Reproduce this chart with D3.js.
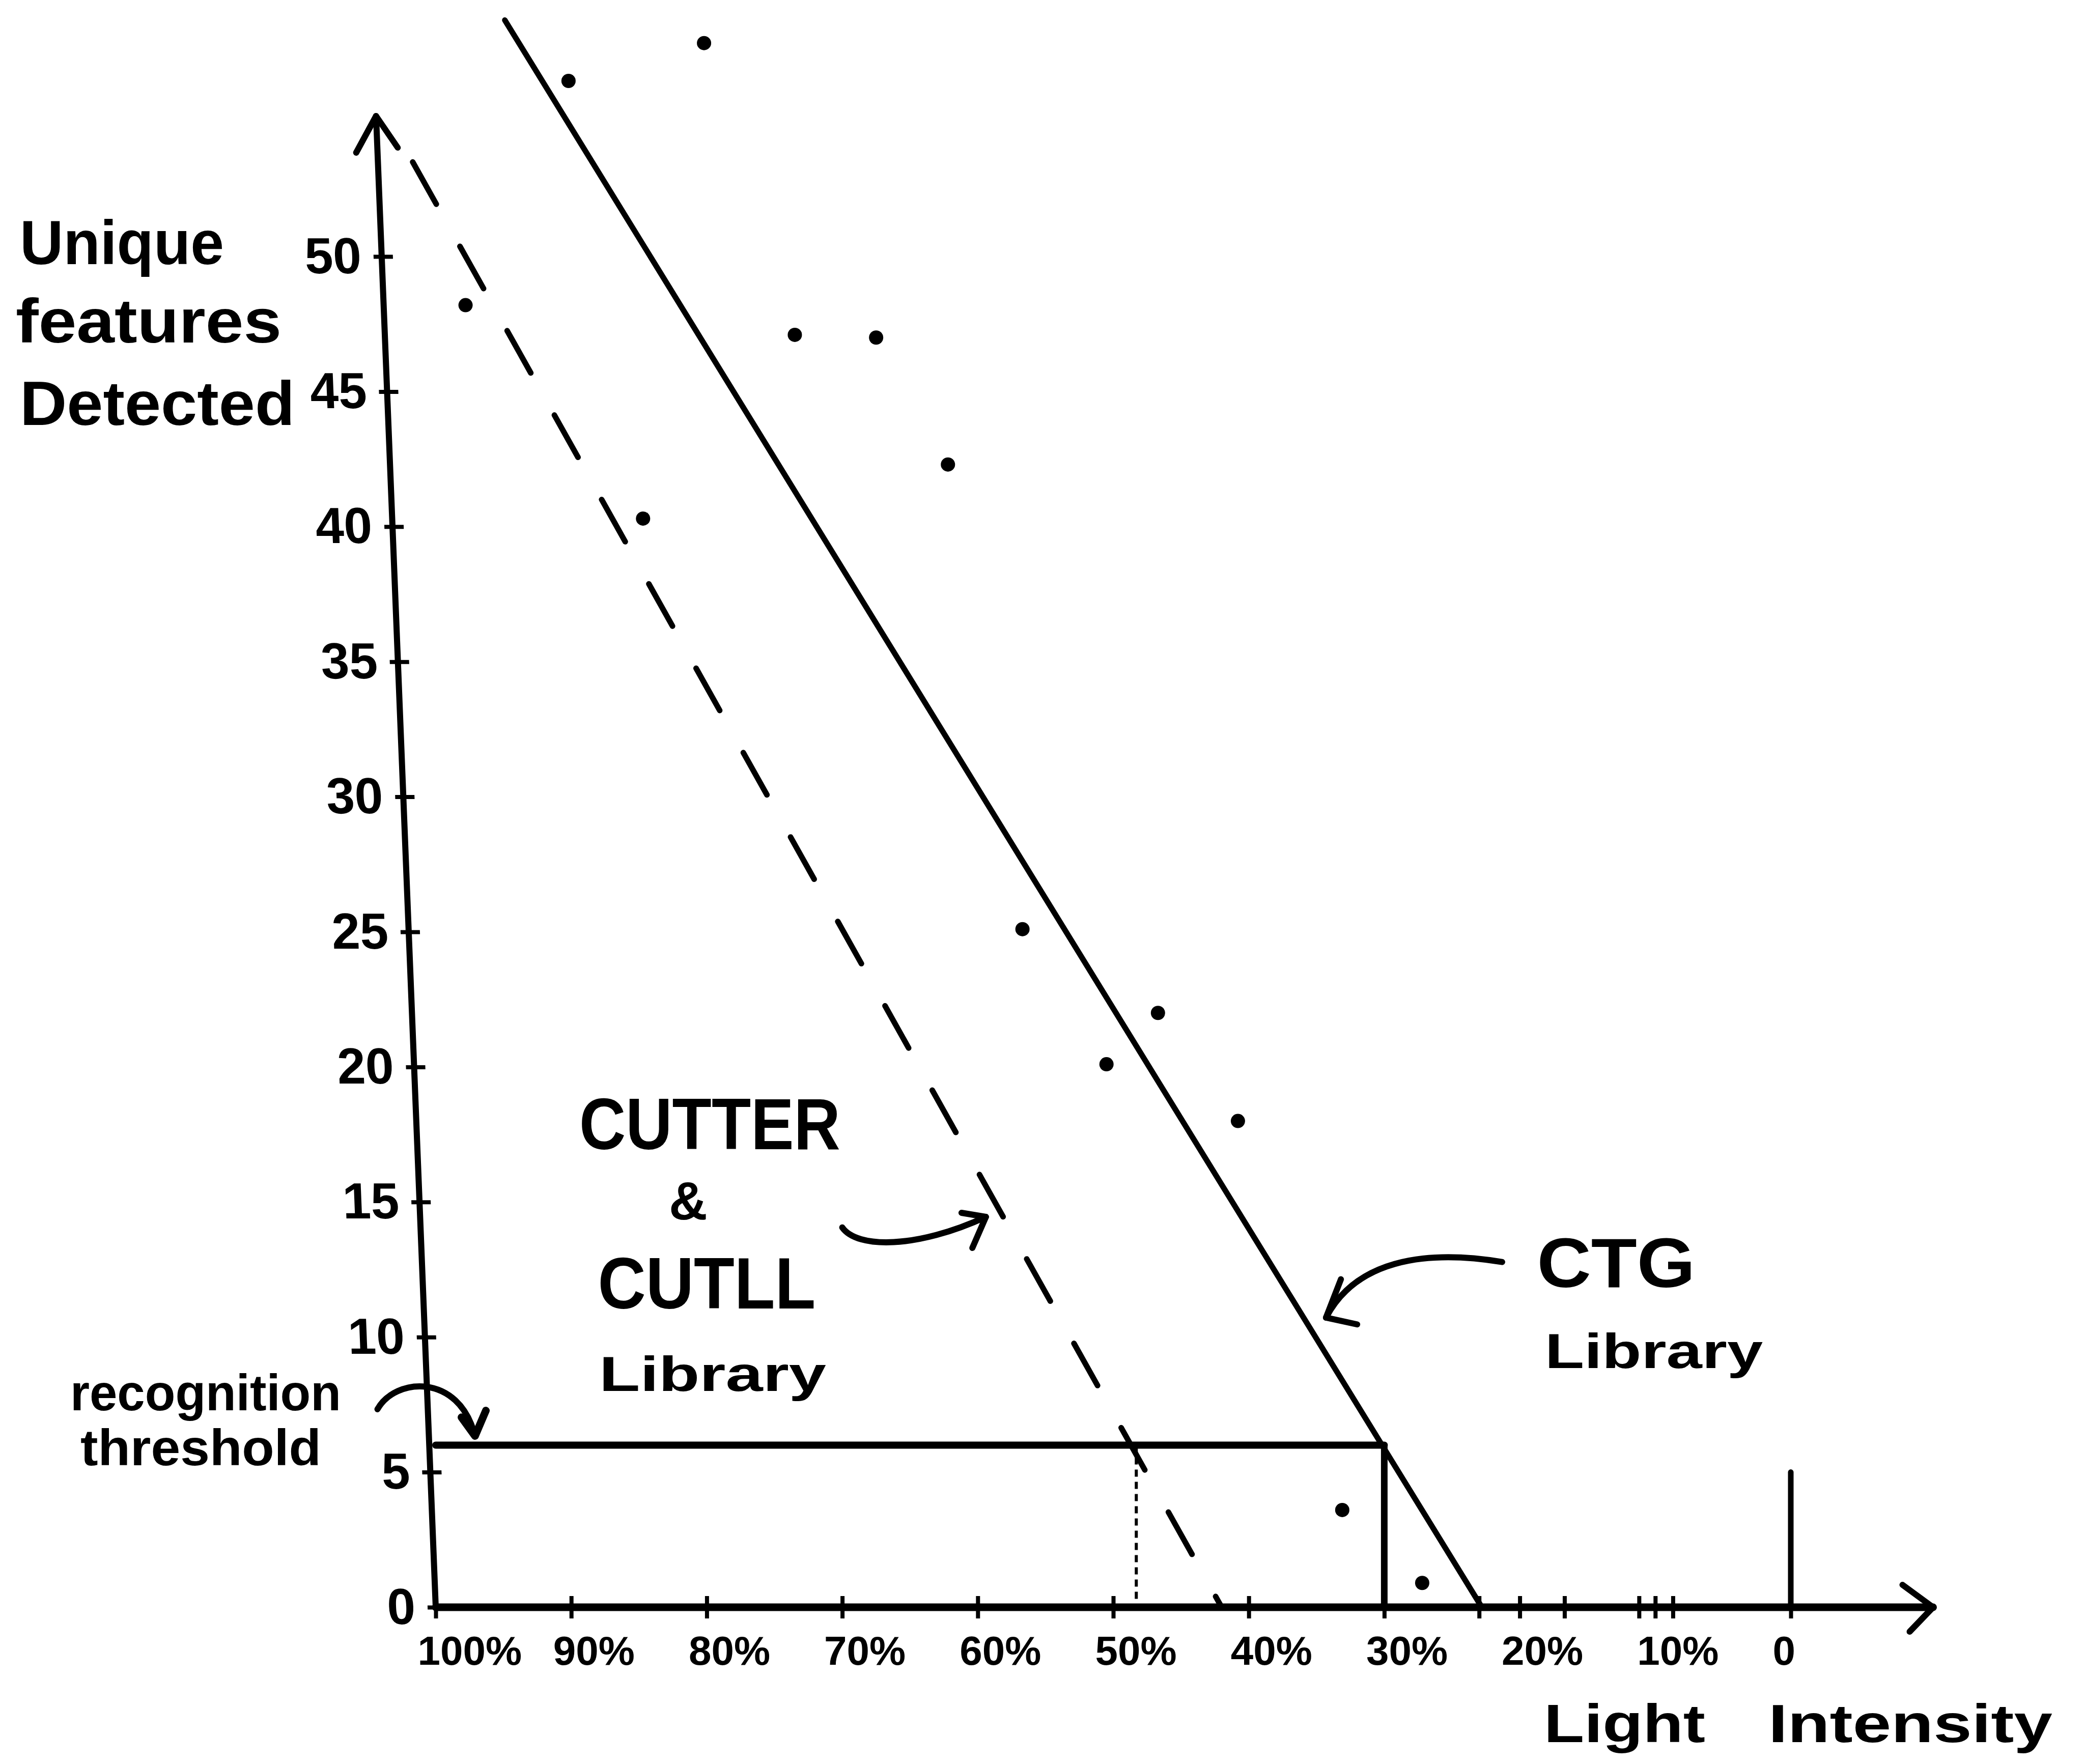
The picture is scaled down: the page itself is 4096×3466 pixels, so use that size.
<!DOCTYPE html>
<html>
<head>
<meta charset="utf-8">
<script src="https://cdn.jsdelivr.net/npm/d3@7"></script>
<style>
  body { margin: 0; background: #fff; }
  text { font-family: "Liberation Sans", Arial, sans-serif; font-weight: bold; fill: #000; }
</style>
</head>
<body>
<svg id="chart"></svg>
<script>
"use strict";

// values
const xTicks = [100, 90, 80, 70, 60, 50, 40, 30, 20, 10, 0];
const xMinorTicks = [23, 16.7, 11.2, 8.7];
const yTicks = [0, 5, 10, 15, 20, 25, 30, 35, 40, 45, 50];

const lightPct = [90.2, 80.2, 97.8, 73.5, 67.5, 62.2, 84.7, 56.7, 46.7, 50.5, 40.8, 33.1, 27.2];
const uniqueFeatures = [56.5, 57.9, 48.2, 47.1, 47.0, 42.3, 40.3, 25.1, 22.0, 20.1, 18.0, 3.6, 0.9];

const ctgLine = [[94.9, 58.75], [22.8, 0]];
const cutterLine = [[101.7, 53.5], [42.0, 0]];

const threshold = 6;
const ctgCut = 30;
const cutterCut = 48.3;
const zeroMark = 5;

const W = 4096, H = 3466;

const svg = d3.select("#chart").attr("width", W).attr("height", H);
svg.append("rect").attr("width", W).attr("height", H).attr("fill", "#fff");

const x = d3.scaleLinear().domain([100, 0]).range([856, 3518]);
const y = d3.scaleLinear().domain([0, 50]).range([3158, 504]);

const line = d3.line().x(d => x(d[0])).y(d => y(d[1]));

// ---- x axis ----
const xg = svg.append("g").attr("transform", `translate(0,${y(0)})`);
xg.append("line")
    .attr("x1", x(100)).attr("x2", x(-10.5))
    .attr("stroke", "#000").attr("stroke-width", 15).attr("stroke-linecap", "round");
xg.append("path")
    .attr("d", `M${x(-10.5) - 60},-44 L${x(-10.5)},0 L${x(-10.5) - 46},48`)
    .attr("fill", "none").attr("stroke", "#000").attr("stroke-width", 12)
    .attr("stroke-linecap", "round").attr("stroke-linejoin", "round");

const xAxis = xg.append("g").call(d3.axisBottom(x)
    .tickValues(xTicks)
    .tickFormat(d => d === 0 ? "0" : d + "%")
    .tickSize(0));
xAxis.select(".domain").remove();
xAxis.selectAll(".tick line").attr("y1", -22).attr("y2", 22)
    .attr("stroke", "#000").attr("stroke-width", 8);
xAxis.selectAll(".tick text")
    .attr("y", 113).attr("dy", 0).attr("x", -36)
    .attr("text-anchor", "start")
    .style("font-size", "80px");
xAxis.attr("font-family", null).attr("font-size", null);

const xMinor = xg.append("g").call(d3.axisBottom(x).tickValues(xMinorTicks).tickFormat("").tickSize(0));
xMinor.select(".domain").remove();
xMinor.selectAll(".tick line").attr("y1", -22).attr("y2", 22)
    .attr("stroke", "#000").attr("stroke-width", 8);

// ---- y axis (drawn slightly slanted like the sketch) ----
const skew = Math.atan(0.04) * 180 / Math.PI;
const yg = svg.append("g")
    .attr("transform", `translate(${x(100)},${y(0)}) skewX(${skew}) translate(0,${-y(0)})`);
yg.append("line")
    .attr("x1", 0).attr("x2", 0).attr("y1", y(0)).attr("y2", y(55.2))
    .attr("stroke", "#000").attr("stroke-width", 12).attr("stroke-linecap", "round");
yg.append("path")
    .attr("d", `M-42,${y(55.2) + 72} L0,${y(55.2)} L40,${y(55.2) + 62}`)
    .attr("fill", "none").attr("stroke", "#000").attr("stroke-width", 12)
    .attr("stroke-linecap", "round").attr("stroke-linejoin", "round");

const yAxis = yg.append("g").call(d3.axisLeft(y).tickValues(yTicks).tickSize(0).tickPadding(40));
yAxis.select(".domain").remove();
yAxis.selectAll(".tick line").attr("x1", -16).attr("x2", 22)
    .attr("stroke", "#000").attr("stroke-width", 8);
yAxis.selectAll(".tick text").style("font-size", "100px");
yAxis.attr("font-family", null).attr("font-size", null);

// ---- threshold box ----
const plot = svg.append("g").attr("fill", "none").attr("stroke", "#000").attr("stroke-linecap", "round");
plot.append("line")
    .attr("x1", x(100)).attr("x2", x(ctgCut))
    .attr("y1", y(threshold)).attr("y2", y(threshold))
    .attr("stroke-width", 14);
plot.append("line")
    .attr("x1", x(ctgCut)).attr("x2", x(ctgCut))
    .attr("y1", y(threshold)).attr("y2", y(0))
    .attr("stroke-width", 13);
plot.append("line")
    .attr("x1", x(cutterCut)).attr("x2", x(cutterCut))
    .attr("y1", y(threshold)).attr("y2", y(0))
    .attr("stroke-width", 6).attr("stroke-dasharray", "14,10").attr("stroke-linecap", "butt");
plot.append("line")
    .attr("x1", x(0)).attr("x2", x(0))
    .attr("y1", y(zeroMark)).attr("y2", y(0))
    .attr("stroke-width", 11);

// ---- library lines ----
plot.append("path").attr("d", line(ctgLine)).attr("stroke-width", 11);
plot.append("path").attr("d", line(cutterLine))
    .attr("stroke-width", 11).attr("stroke-dasharray", "95,95");

// ---- scatter points ----
svg.append("g").selectAll("circle")
    .data(lightPct.map((p, i) => [p, uniqueFeatures[i]]))
    .join("circle")
    .attr("cx", d => x(d[0]))
    .attr("cy", d => y(d[1]))
    .attr("r", 14)
    .attr("fill", "#000");

// ---- annotation arrows (in data coordinates) ----
const arrowPath = (pts) => {
    const p = pts.map(d => [x(d[0]), y(d[1])]);
    return `M${p[0]} C${p[1]} ${p[2]} ${p[3]}`;
};
const headPath = (a, tip, b) => `M${x(a[0])},${y(a[1])} L${x(tip[0])},${y(tip[1])} L${x(b[0])},${y(b[1])}`;

const ann = svg.append("g").attr("fill", "none").attr("stroke", "#000")
    .attr("stroke-width", 12).attr("stroke-linecap", "round").attr("stroke-linejoin", "round");

// recognition threshold
ann.append("path").attr("d", arrowPath([[104.3, 7.33], [103.0, 8.5], [98.3, 8.7], [97.1, 6.34]]));
ann.append("path").attr("d", headPath([98.1, 7.03], [97.1, 6.34], [96.3, 7.28])).attr("stroke-width", 15);

// CUTTER & CUTLL
ann.append("path").attr("d", arrowPath([[70.0, 14.06], [68.9, 13.27], [64.5, 13.27], [59.4, 14.45]]));
ann.append("path").attr("d", headPath([61.2, 14.6], [59.4, 14.45], [60.4, 13.3]));

// CTG
ann.append("path").attr("d", arrowPath([[21.3, 12.78], [27.25, 13.27], [32.16, 12.78], [34.3, 10.72]]));
ann.append("path").attr("d", headPath([33.2, 12.14], [34.3, 10.72], [32.0, 10.47]));

// ---- texts ----
const label = (txt, px, py, size, len, anchor) => {
    const t = svg.append("text")
        .attr("x", px).attr("y", py)
        .style("font-size", size + "px")
        .attr("text-anchor", anchor || "start")
        .text(txt);
    if (len) t.attr("textLength", len).attr("lengthAdjust", "spacingAndGlyphs");
    return t;
};

label("Unique", 39, 519, 122, 401);
label("features", 31, 673, 122, 522);
label("Detected", 39, 835, 122, 540);

label("recognition", 138, 2771, 100, 532);
label("threshold", 158, 2879, 100, 473);

label("CUTTER", x(89.41), y(16.96), 142, 513);
label("&", x(81.37), y(14.36), 105, null, "middle");
label("CUTLL", x(88.04), y(11.06), 142, 428);
label("Library", x(87.94), y(8.01), 97, 446);

label("CTG", x(18.73), y(11.85), 138, 311);
label("Library", x(18.14), y(8.85), 97, 428);

label("Light", 3033, 3423, 105, 317);
label("Intensity", 3474, 3423, 105, 558);
</script>
</body>
</html>
